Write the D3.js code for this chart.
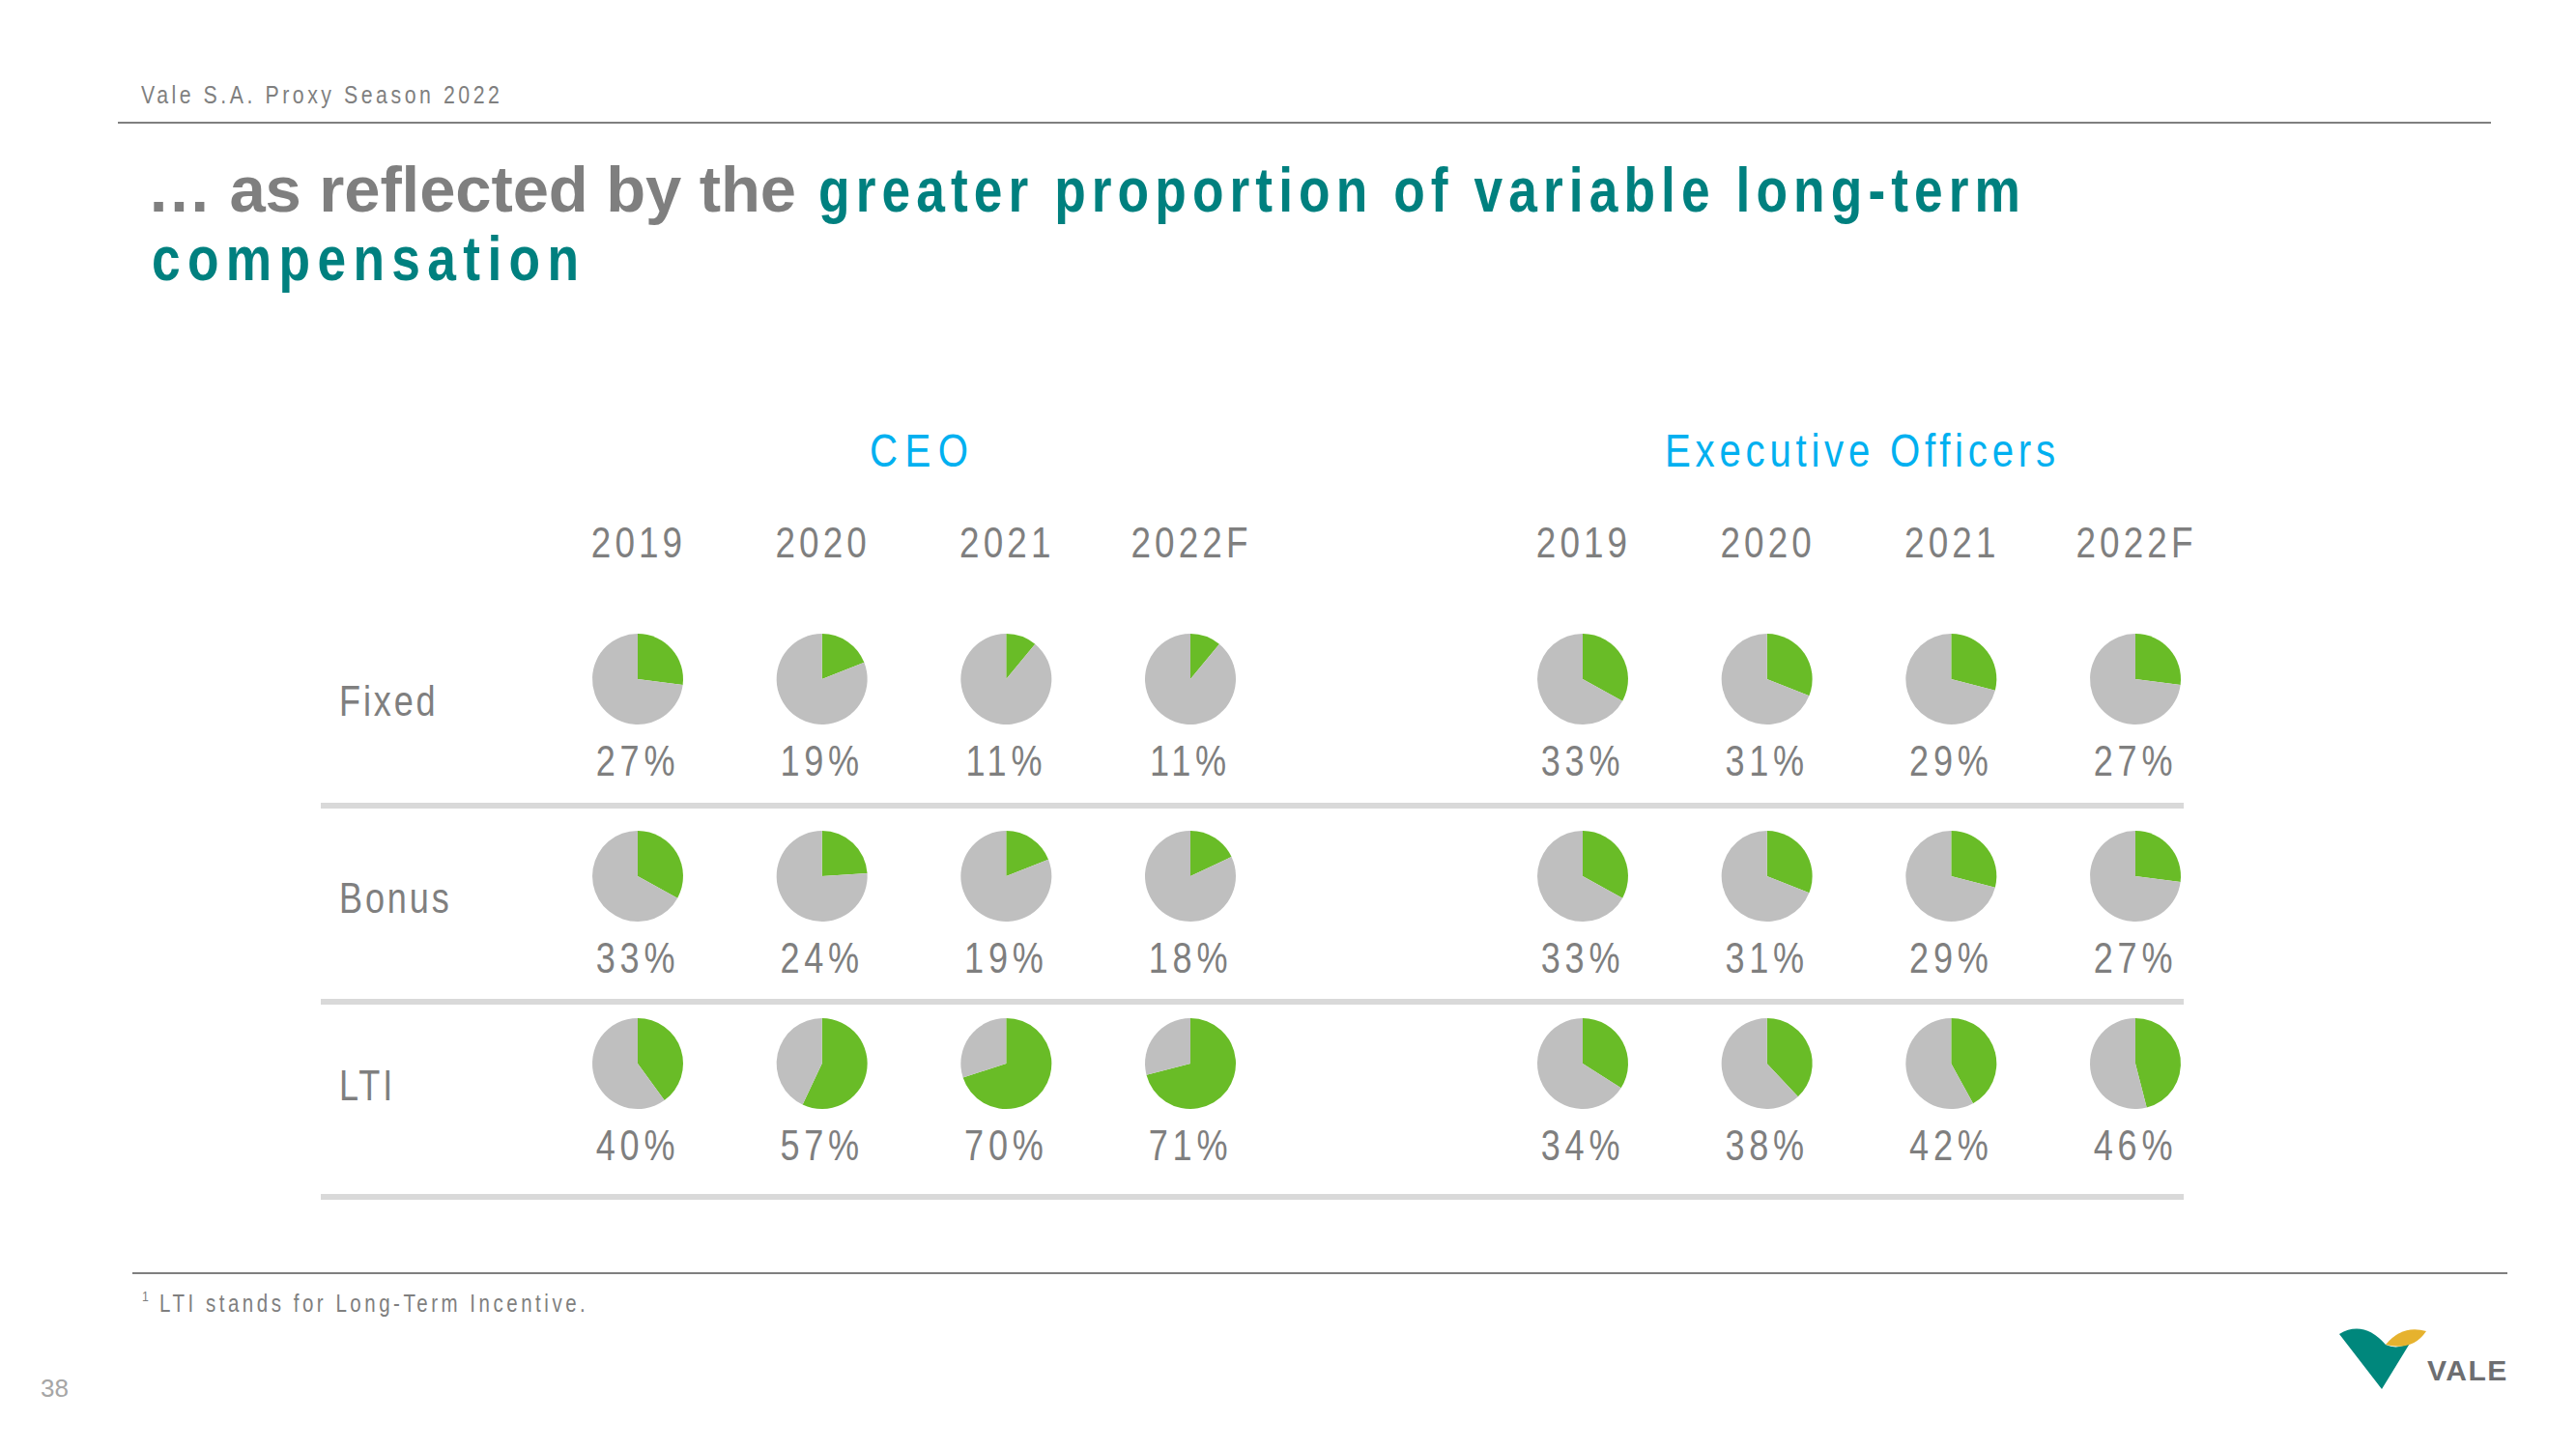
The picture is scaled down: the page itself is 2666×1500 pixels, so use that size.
<!DOCTYPE html>
<html>
<head>
<meta charset="utf-8">
<script src="https://cdn.jsdelivr.net/npm/d3@7/dist/d3.min.js"></script>
<style>
  html, body { margin: 0; padding: 0; background: #ffffff; }
  svg { display: block; }
  text { font-family: "Liberation Sans", Arial, sans-serif; }
</style>
</head>
<body>
<svg id="chart" width="2666" height="1500"></svg>
<script>
// ---------------- data ----------------
const groups = ["CEO", "Executive Officers"];
const years = ["2019", "2020", "2021", "2022F"];
const components = ["Fixed", "Bonus", "LTI"];
const ceoFixed = [27, 19, 11, 11];
const ceoBonus = [33, 24, 19, 18];
const ceoLTI   = [40, 57, 70, 71];
const execFixed = [33, 31, 29, 27];
const execBonus = [33, 31, 29, 27];
const execLTI   = [34, 38, 42, 46];

const headerText = "Vale S.A. Proxy Season 2022";
const titleGray = "\u2026 as reflected by the";
const titleTeal1 = "greater proportion of variable long-term";
const titleTeal2 = "compensation";
const footnoteText = "LTI stands for Long-Term Incentive.";
const pageNumber = "38";

const table = [
  { group: "CEO", comp: "Fixed", values: ceoFixed },
  { group: "CEO", comp: "Bonus", values: ceoBonus },
  { group: "CEO", comp: "LTI", values: ceoLTI },
  { group: "Executive Officers", comp: "Fixed", values: execFixed },
  { group: "Executive Officers", comp: "Bonus", values: execBonus },
  { group: "Executive Officers", comp: "LTI", values: execLTI }
];

// ---------------- style ----------------
const GRAY_TXT = "#7f7f7f";
const TEAL = "#00807f";
const BLUE = "#00b0f0";
const GREEN = "#69bc27";
const PIE_GRAY = "#bfbfbf";
const SEP = "#d9d9d9";
const NARROW = 0.82;

const svg = d3.select("#chart");

// narrow text helper (Arial Narrow look)
function narrowText(parent, x, y, str, opts) {
  const t = parent.append("text")
    .attr("transform", `translate(${x},${y}) scale(${NARROW},1)`)
    .attr("font-size", opts.size)
    .attr("fill", opts.fill)
    .attr("text-anchor", opts.anchor || "start")
    .attr("font-weight", opts.weight || "normal")
    .text(str);
  if (opts.ls != null) t.attr("letter-spacing", opts.ls);
  if (opts.width != null) t.attr("textLength", opts.width / NARROW).attr("lengthAdjust", "spacing");
  return t;
}

// ---------------- header ----------------
narrowText(svg, 146, 107, headerText, { size: 26, fill: GRAY_TXT, ls: 4.3 });
svg.append("line").attr("x1", 122).attr("x2", 2578).attr("y1", 127).attr("y2", 127)
  .attr("stroke", GRAY_TXT).attr("stroke-width", 2);

// ---------------- title ----------------
svg.append("text").attr("x", 152).attr("y", 219)
  .attr("font-size", 67).attr("font-weight", "bold").attr("fill", GRAY_TXT)
  .attr("textLength", 672).attr("lengthAdjust", "spacing")
  .text(titleGray);
narrowText(svg, 847, 219, titleTeal1, { size: 65, weight: "bold", fill: TEAL, width: 1244 });
narrowText(svg, 157, 290, titleTeal2, { size: 65, weight: "bold", fill: TEAL, width: 442 });

// ---------------- scales ----------------
const groupRange = { "CEO": [660, 1232], "Executive Officers": [1638, 2210] };
const xScales = {};
groups.forEach(g => {
  xScales[g] = d3.scalePoint().domain(years).range(groupRange[g]);
});
const y = d3.scaleOrdinal().domain(components).range([703, 907, 1101]);

const R = 47;
const pie = d3.pie().sort(null).value(d => d);
const arc = d3.arc().innerRadius(0).outerRadius(R);

// group headings
const headingWidths = { "CEO": 102, "Executive Officers": 404 };
const headingShift = { "CEO": 5, "Executive Officers": 1 };
groups.forEach(g => {
  const r = xScales[g].range();
  const cx = (r[0] + r[1]) / 2 + headingShift[g];
  narrowText(svg, cx, 483, g, { size: 49, fill: BLUE, anchor: "middle", width: headingWidths[g] });
  years.forEach(yr => {
    narrowText(svg, xScales[g](yr) + 1, 577, yr, { size: 45, fill: GRAY_TXT, anchor: "middle", ls: 5 });
  });
});

// separators
const sepY = [834, 1037, 1239];
svg.selectAll("line.sep").data(sepY).enter().append("line")
  .attr("class", "sep")
  .attr("x1", 332).attr("x2", 2260)
  .attr("y1", d => d).attr("y2", d => d)
  .attr("stroke", SEP).attr("stroke-width", 6);

// row labels
components.forEach(c => {
  narrowText(svg, 351, y(c) + 38, c, { size: 44, fill: GRAY_TXT, ls: 3.5 });
});

// pies
table.forEach(row => {
  row.values.forEach((v, i) => {
    const cx = xScales[row.group](years[i]);
    const cy = y(row.comp);
    const g = svg.append("g").attr("transform", `translate(${cx},${cy})`);
    g.selectAll("path").data(pie([v, 100 - v])).enter().append("path")
      .attr("d", arc)
      .attr("fill", (d, j) => j === 0 ? GREEN : PIE_GRAY);
    narrowText(svg, cx, cy + 100, v + "%", { size: 44, fill: GRAY_TXT, anchor: "middle", ls: 5.8 });
  });
});

// ---------------- footer ----------------
svg.append("line").attr("x1", 137).attr("x2", 2595).attr("y1", 1318).attr("y2", 1318)
  .attr("stroke", GRAY_TXT).attr("stroke-width", 2);
narrowText(svg, 147, 1347, "1", { size: 15, fill: GRAY_TXT });
narrowText(svg, 165, 1358, footnoteText, { size: 25, fill: GRAY_TXT, ls: 4.3 });
svg.append("text").attr("x", 42).attr("y", 1446).attr("font-size", 26)
  .attr("fill", "#a6a6a6").text(pageNumber);

// logo
const logo = svg.append("g");
logo.append("path")
  .attr("d", "M2421,1381 Q2446,1366 2469,1392 Q2482,1398 2495,1389 L2465,1438 Z")
  .attr("fill", "#00877c");
logo.append("path")
  .attr("d", "M2469,1392 Q2486,1371 2511,1378 Q2497,1399 2469,1392 Z")
  .attr("fill", "#e6b22e");
logo.append("text").attr("x", 2512).attr("y", 1429)
  .attr("font-size", 30).attr("font-weight", "bold").attr("fill", "#6d6e71")
  .attr("letter-spacing", 1.5).text("VALE");
</script>
</body>
</html>
